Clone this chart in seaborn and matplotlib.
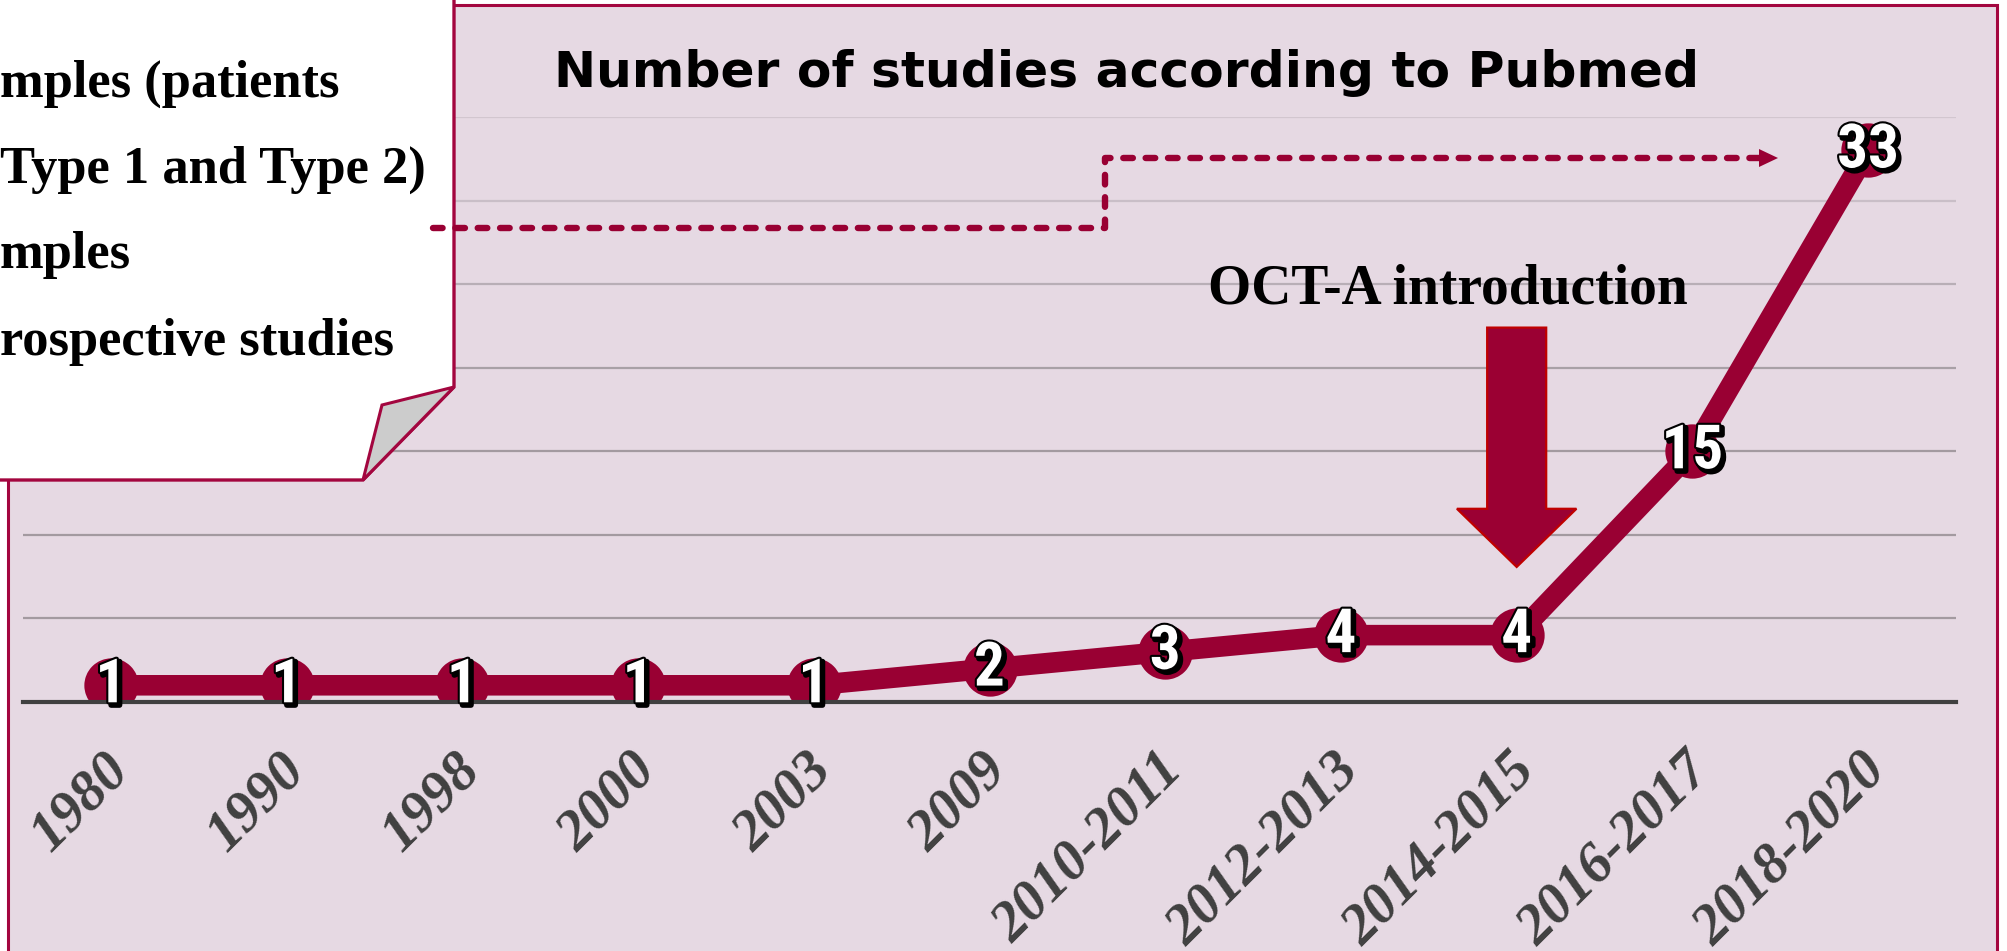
import matplotlib
matplotlib.use("Agg")
import matplotlib.pyplot as plt
import matplotlib.patheffects as pe
from matplotlib.lines import Line2D
from matplotlib.patches import Polygon, Rectangle
from matplotlib.transforms import ScaledTranslation
import seaborn as sns

# ---- data -------------------------------------------------------------
PERIODS = ["1980", "1990", "1998", "2000", "2003", "2009", "2010-2011",
           "2012-2013", "2014-2015", "2016-2017", "2018-2020"]
STUDIES = [1, 1, 1, 1, 1, 2, 3, 4, 4, 15, 33]
GRID_LEVELS = [5, 10, 15, 20, 25, 30, 35]

TITLE = "Number of studies according to Pubmed"
NOTE_LINES = ["mples (patients", "Type 1 and Type 2)", "mples", "rospective studies"]
MARKER_TEXT = "OCT-A introduction"
MARKER_PERIOD = "2014-2015"

# ---- style ------------------------------------------------------------
W, H = 2007, 951
PINK = "#E6D9E3"
CRIMSON = "#990033"
FRAME = "#A3063F"
AXIS_GREY = "#404040"
SERIF = "Liberation Serif"
NARROW = ["Liberation Sans Narrow", "Roboto Condensed", "DejaVu Sans Condensed",
          "Open Sans Condensed", "Roboto"]


def fx(px):
    return px / W


def fy(py):
    return 1 - py / H


fig = plt.figure(figsize=(W / 100, H / 100), dpi=100)
fig.patch.set_facecolor("white")

# chart frame
fig.patches.append(Rectangle((fx(8), fy(965)), fx(1997) - fx(8), fy(5) - fy(965),
                             transform=fig.transFigure, facecolor=PINK,
                             edgecolor=FRAME, lw=2.2, zorder=-1))

ax = fig.add_axes([fx(23), fy(702), fx(1956) - fx(23), fy(117) - fy(702)])
ax.set_facecolor("none")

sns.pointplot(x=PERIODS, y=STUDIES, ax=ax, color=CRIMSON, markers="o",
              markersize=28, linewidth=14.8, errorbar=None)

ax.set_xlim(-0.5, len(PERIODS) - 0.5)
ax.set_ylim(0, GRID_LEVELS[-1])
ax.set_yticks(GRID_LEVELS)
ax.tick_params(axis="y", left=False, labelleft=False)
ax.yaxis.grid(True, lw=1.6)
ax.xaxis.grid(False)
ax.set_axisbelow(True)
grid_cols = ["#A39AA0", "#A39AA0", "#A39AA0", "#A8A0A6", "#B8AEB6", "#C9BEC7", "#D2C6CF"]
for gl, c in zip(ax.get_ygridlines(), grid_cols):
    gl.set_color(c)
for s in ("top", "right", "left"):
    ax.spines[s].set_visible(False)
ax.spines["bottom"].set_color(AXIS_GREY)
ax.spines["bottom"].set_linewidth(3)
ax.set_xlabel("")
ax.set_ylabel("")

# category labels, slanted
ax.set_xticks(range(len(PERIODS)))
ax.set_xticklabels(PERIODS)
ax.tick_params(axis="x", length=0, pad=43)
shift = ScaledTranslation(10 / 100, 0, fig.dpi_scale_trans)
for lab in ax.get_xticklabels():
    lab.set_rotation(45)
    lab.set_rotation_mode("anchor")
    lab.set_ha("right")
    lab.set_va("center")
    lab.set_fontfamily(SERIF)
    lab.set_fontweight("bold")
    lab.set_fontstyle("italic")
    lab.set_fontsize(41)
    lab.set_color(AXIS_GREY)
    lab.set_transform(lab.get_transform() + shift)

# value labels on each point
label_fx = [pe.Stroke(linewidth=4, foreground="black", offset=(2, -2)),
            pe.Stroke(linewidth=3, foreground="black"), pe.Normal()]
for i, v in enumerate(STUDIES):
    ax.text(i, v, str(v), ha="center", va="center", fontsize=44, fontweight="bold",
            family=NARROW, color="white", path_effects=label_fx, zorder=6)

# block arrow pointing at the introduction period
xi = PERIODS.index(MARKER_PERIOD)
arrow_pts = [(xi - 0.168, 22.4), (xi + 0.168, 22.4), (xi + 0.168, 11.56),
             (xi + 0.34, 11.56), (xi, 8.08), (xi - 0.34, 11.56), (xi - 0.168, 11.56)]
ax.add_patch(Polygon(arrow_pts, closed=True, facecolor="#9B0033",
                     edgecolor="#C00000", lw=1.6, zorder=4))
fig.text(fx(1448), fy(303), MARKER_TEXT, ha="center", va="baseline",
         family=SERIF, weight="bold", fontsize=40, color="black", zorder=5)

# title
fig.text(fx(1127), fy(87), TITLE, ha="center", va="baseline",
         family="DejaVu Sans", weight="bold", fontsize=36.3, color="black", zorder=5)

# folded note card in the corner
card = [(-20, -20), (454, -20), (454, 387), (363, 480), (-20, 480)]
fig.patches.append(Polygon([(fx(x), fy(y)) for x, y in card], closed=True,
                           transform=fig.transFigure, facecolor="white",
                           edgecolor=FRAME, lw=2.4, zorder=2))
flap = [(454, 387), (382, 405), (363, 480)]
fig.patches.append(Polygon([(fx(x), fy(y)) for x, y in flap], closed=True,
                           transform=fig.transFigure, facecolor="#CCCCCC",
                           edgecolor=FRAME, lw=2.2, zorder=2.1))
for line, base in zip(NOTE_LINES, [97, 183, 268, 355]):
    fig.text(0, fy(base), line, ha="left", va="baseline", family=SERIF,
             weight="bold", fontsize=37.8, color="black", zorder=5)

# dashed connector from the card towards the latest period
path_x = [433, 1105, 1105, 1762]
path_y = [228, 228, 158, 158]
fig.lines.append(Line2D([fx(x) for x in path_x], [fy(y) for y in path_y],
                        transform=fig.transFigure, color=CRIMSON, lw=4.6,
                        dashes=(1.5, 2.0), dash_capstyle="round", zorder=3))
head = [(1759, 149), (1778, 158), (1759, 167)]
fig.patches.append(Polygon([(fx(x), fy(y)) for x, y in head], closed=True,
                           transform=fig.transFigure, facecolor=CRIMSON,
                           edgecolor="none", zorder=3))

fig.savefig("out.png", dpi=100, facecolor=fig.get_facecolor())
